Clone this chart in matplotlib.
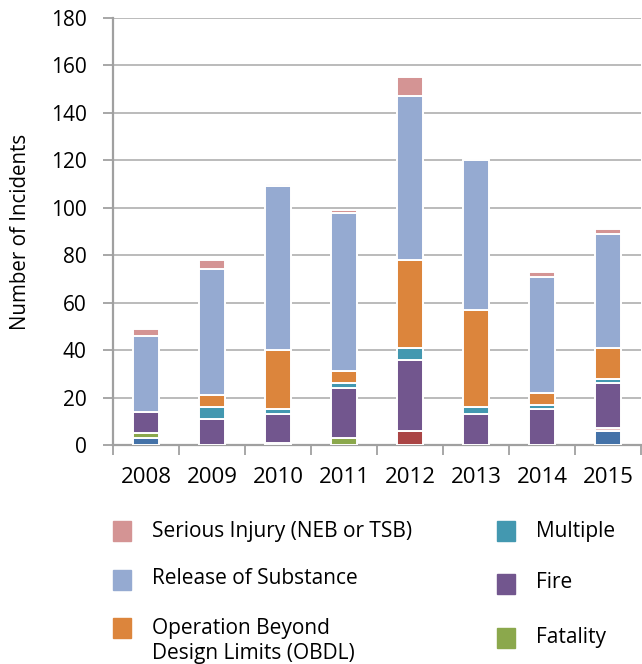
import numpy as np
import matplotlib.pyplot as plt
import matplotlib.patches as patches

plt.rcParams['font.family'] = ['Open Sans', 'DejaVu Sans']

# ── Data ──────────────────────────────────────────────────────────────────────
years = ['2008', '2009', '2010', '2011', '2012', '2013', '2014', '2015']

# stacked bottom -> top
unlisted_blue = [3, 0, 1, 0, 0, 0, 0, 6]
unlisted_red  = [0, 0, 0, 0, 6, 0, 0, 0]
unlisted_pale = [0, 0, 0, 0, 0, 0, 0, 1]
fatality      = [2, 0, 0, 3, 0, 0, 0, 0]
fire          = [9, 11, 12, 21, 30, 13, 15, 19]
multiple      = [0, 5, 2, 2, 5, 3, 2, 2]
obdl          = [0, 5, 25, 5, 37, 41, 5, 13]
release       = [32, 53, 69, 67, 69, 63, 49, 48]
injury        = [3, 4, 1, 1, 8, 0, 2, 2]

series = [
    (unlisted_blue, '#4472A8', None),
    (unlisted_red,  '#AA4545', None),
    (unlisted_pale, '#E8C4C4', None),
    (fatality,      '#8BA84C', 'Fatality'),
    (fire,          '#72568E', 'Fire'),
    (multiple,      '#4398B0', 'Multiple'),
    (obdl,          '#DC853C', 'Operation Beyond\nDesign Limits (OBDL)'),
    (release,       '#95AAD1', 'Release of Substance'),
    (injury,        '#D49494', 'Serious Injury (NEB or TSB)'),
]

# ── Figure ────────────────────────────────────────────────────────────────────
W, H = 642, 664
fig = plt.figure(figsize=(W / 100, H / 100), dpi=100)
ax = fig.add_axes([113 / W, 1 - 445 / H, 528 / W, 427 / H])

x = np.arange(len(years))
bottom = np.zeros(len(years))
handles = {}
for vals, col, lab in series:
    v = np.array(vals, dtype=float)
    ax.bar(x, v, 0.38, bottom=bottom, color=col,
           edgecolor='white', linewidth=1.4, zorder=3)
    if lab:
        handles[lab] = col
    bottom += v

ax.set_xlim(-0.5, len(years) - 0.5)
ax.set_ylim(0, 180)
ax.set_yticks(np.arange(0, 181, 20))
ax.yaxis.grid(True, color='#A8A8A8', lw=1.1, zorder=0)
ax.set_axisbelow(True)

ax.set_xticks(x)
ax.set_xticklabels(years)
ax.set_xticks(np.arange(-0.5, len(years)), minor=True)
ax.tick_params(axis='x', which='major', length=0, pad=16, labelsize=16)
ax.tick_params(axis='x', which='minor', length=7, width=1.3, color='#A0A0A0')
ax.tick_params(axis='y', length=7, width=1.3, color='#A0A0A0', pad=12,
               labelsize=15)

for s in ('top', 'right'):
    ax.spines[s].set_visible(False)
for s in ('left', 'bottom'):
    ax.spines[s].set_color('#A0A0A0')
    ax.spines[s].set_linewidth(1.6)

ax.set_ylabel('Number of Incidents', fontsize=14.8)
ax.yaxis.set_label_coords(-82 / 528, 0.5)

# ── Legend (manual, two columns) ──────────────────────────────────────────────
def legend_item(label, sx, sy, tx, ty):
    fig.patches.append(patches.Rectangle((sx / W, 1 - (sy + 20) / H),
                                         18 / W, 20 / H,
                                         color=handles[label],
                                         transform=fig.transFigure))
    fig.text(tx / W, 1 - ty / H, label, fontsize=15, va='center',
             ha='left', linespacing=1.2)

legend_item('Serious Injury (NEB or TSB)', 113, 521, 152, 531)
legend_item('Release of Substance', 113, 570, 152, 579)
legend_item('Operation Beyond\nDesign Limits (OBDL)', 113, 618, 152, 641)
legend_item('Multiple', 497, 521, 536, 531)
legend_item('Fire', 497, 574, 536, 583)
legend_item('Fatality', 497, 628, 536, 637)

fig.savefig('out.png', dpi=100)
